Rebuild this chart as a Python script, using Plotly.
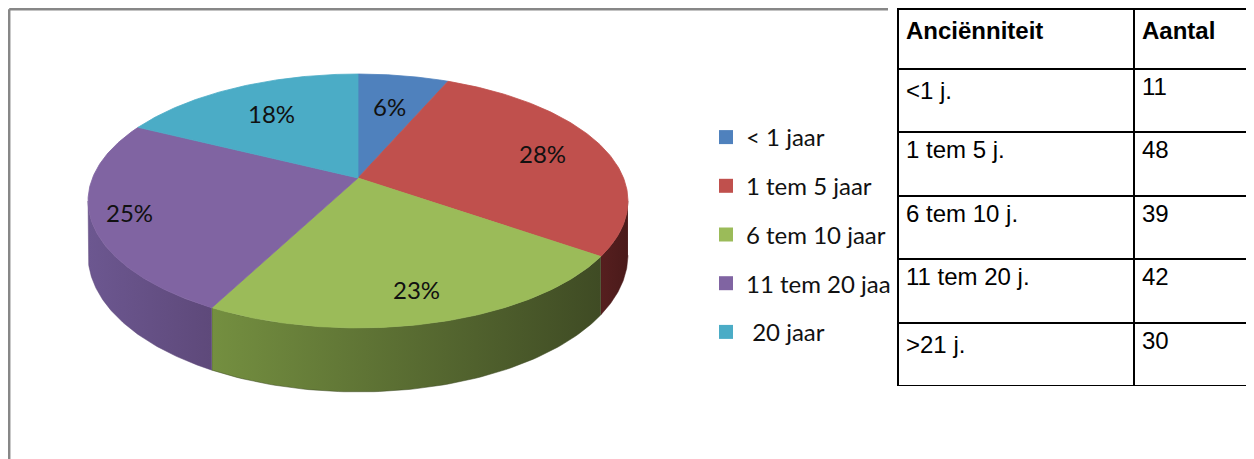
import numpy as np
import plotly.graph_objects as go

# data
labels = ["< 1 jaar", "1 tem 5 jaar", "6 tem 10 jaar", "11 tem 20 jaa", " 20 jaar"]
values = [11, 48, 39, 42, 30]
top_colors = ["#4f81bd", "#c0504d", "#9bbb59", "#8064a2", "#4bacc6"]
side_colors = [
    ["#3b6190", "#2f4f78"],
    ["#561f1f", "#4a1a1a"],
    ["#748f40", "#3f4b24"],
    ["#6c5790", "#5e497a"],
    ["#37849a", "#2c6b7d"],
]
table_header = ["Anciënniteit", "Aantal"]
table_rows = ["<1 j.", "1 tem 5 j.", "6 tem 10 j.", "11 tem 20 j.", ">21 j."]
table_counts = [11, 48, 39, 42, 30]

# de pagina heeft 8px marge rond de figuur
MARGE = 8
W, H = 1254 - MARGE, 459 - MARGE


def px(x):
    return (x - MARGE) / W


def py(y):
    return min(1, max(0, 1 - (y - MARGE) / H))


# geometrie van de schijf (in schermpixels), met een beetje perspectief
cx, cy = 358, 178
rx, ry = 265.5, 122.8
persp = 0.181
dikte = 52.4
label_r = [0.66, 0.75, 0.8, 0.86, 0.68]


def proj(theta, r=1.0, down=0.0):
    u = r * np.sin(theta)
    v = r * np.cos(theta)
    s = 1 / (1 + persp * v)
    return cx + rx * u * s, cy - ry * v * s + down * dikte * s


total = sum(values)
grenzen = np.concatenate([[0], np.cumsum(values)]) / total * 2 * np.pi
zicht_a = np.arccos(-persp)
zicht_b = 2 * np.pi - zicht_a

fig = go.Figure()

# zijkanten
for i in range(len(values)):
    a = max(grenzen[i], zicht_a)
    b = min(grenzen[i + 1], zicht_b)
    if b <= a:
        continue
    t = np.linspace(a, b, 80)
    xt, yt = proj(t)
    xb, yb = proj(t[::-1], down=1.0)
    fig.add_trace(go.Scatter(
        x=np.concatenate([xt, xb]), y=np.concatenate([yt, yb]),
        fill="toself", mode="lines", line=dict(width=0.5, color=side_colors[i][1]),
        fillgradient=dict(type="horizontal",
                          colorscale=[[0, side_colors[i][0]], [1, side_colors[i][1]]]),
        hoverinfo="skip", showlegend=False))

# bovenkant
for i in range(len(values)):
    t = np.linspace(grenzen[i], grenzen[i + 1], 120)
    xs, ys = proj(t)
    fig.add_trace(go.Scatter(
        x=np.concatenate([[cx], xs, [cx]]), y=np.concatenate([[cy], ys, [cy]]),
        fill="toself", mode="lines", fillcolor=top_colors[i],
        line=dict(width=0.8, color=top_colors[i]),
        hoverinfo="skip", showlegend=False))

# percentages
for i in range(len(values)):
    mid = (grenzen[i] + grenzen[i + 1]) / 2
    lx, ly = proj(mid, r=label_r[i])
    fig.add_annotation(x=lx, y=ly, text=f"{round(values[i] / total * 100)}%",
                       showarrow=False, font=dict(family="Lato", size=24, color="#111"))

# legende
for i in range(len(values)):
    fig.add_trace(go.Scatter(
        x=[None], y=[None], mode="markers", name=labels[i], legendgroup=str(i),
        marker=dict(symbol="square", size=14, color=top_colors[i])))

# tabel (bovenrand valt in de paginamarge, dus kopregel iets lager)
fig.add_trace(go.Table(
    domain=dict(x=[px(898), 1], y=[py(386), py(9)]),
    columnwidth=[236, 120],
    header=dict(values=[f"<b>{h}</b>" for h in table_header], align="left", height=60,
                line=dict(color="black", width=2), fill_color="white",
                font=dict(family="Liberation Sans", size=24, color="black")),
    cells=dict(values=[table_rows, table_counts], align="left", height=63.4,
               line=dict(color="black", width=2), fill_color="white",
               font=dict(family="Liberation Sans", size=24, color="black"))))

# grijze kader van de grafiek
fig.add_shape(type="line", x0=9.2, x1=888, y0=9.2, y1=9.2, line=dict(color="#878787", width=2.5))
fig.add_shape(type="line", x0=9.2, x1=9.2, y0=9.2, y1=470, line=dict(color="#878787", width=2.5))

fig.update_layout(
    width=W, height=H, margin=dict(l=0, r=0, t=0, b=0),
    paper_bgcolor="white", plot_bgcolor="white",
    xaxis=dict(range=[MARGE, 1254], visible=False, fixedrange=True),
    yaxis=dict(range=[459, MARGE], visible=False, fixedrange=True),
    legend=dict(x=px(706), y=py(115), xanchor="left", yanchor="top",
                font=dict(family="Lato", size=24, color="#111"),
                tracegroupgap=14.5, itemwidth=30, bgcolor="rgba(0,0,0,0)"),
)

fig.write_html("out.html")
